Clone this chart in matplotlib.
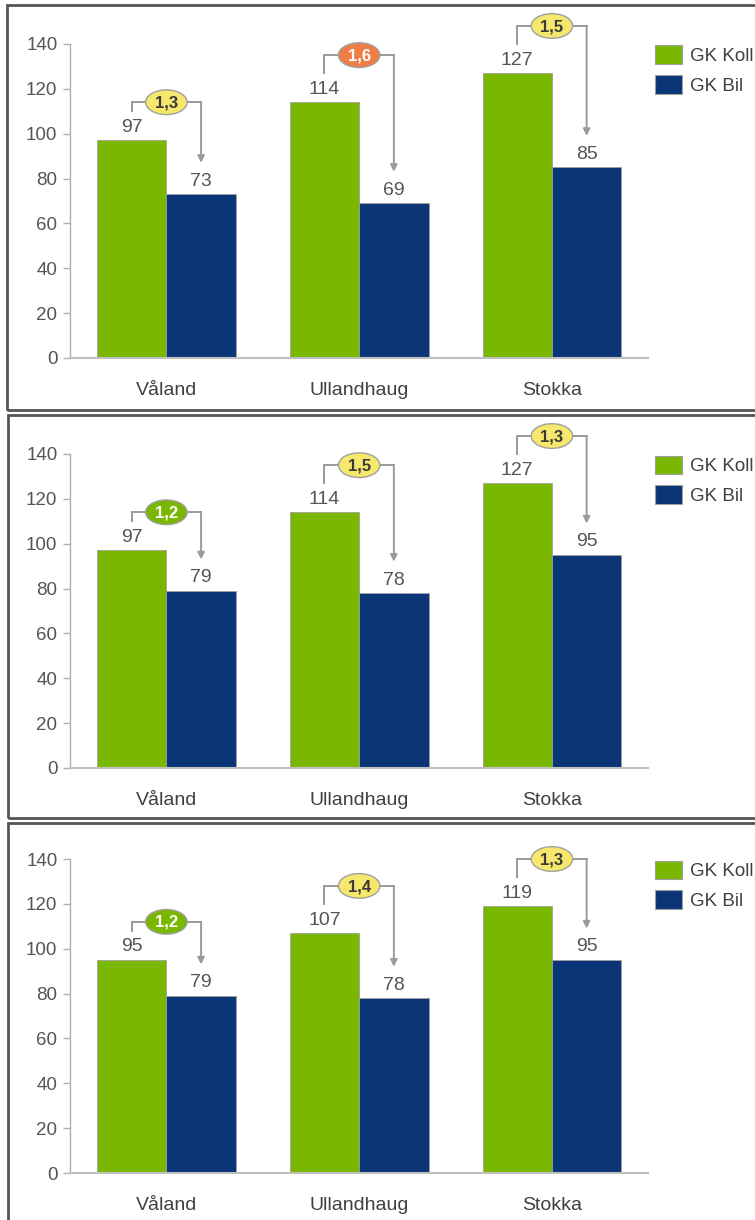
import numpy as np
import matplotlib
matplotlib.use("Agg")
import matplotlib.pyplot as plt
from matplotlib.patches import Patch, Rectangle, Ellipse

plt.rcParams['font.family'] = ['Liberation Sans', 'DejaVu Sans']

# data
categories = ['Våland', 'Ullandhaug', 'Stokka']
series_names = ['GK Koll', 'GK Bil']

koll_top = [97, 114, 127]
bil_top = [73, 69, 85]
ratio_top = ['1,3', '1,6', '1,5']

koll_mid = [97, 114, 127]
bil_mid = [79, 78, 95]
ratio_mid = ['1,2', '1,5', '1,3']

koll_bot = [95, 107, 119]
bil_bot = [79, 78, 95]
ratio_bot = ['1,2', '1,4', '1,3']

yticks = [0, 20, 40, 60, 80, 100, 120, 140]

# styling
GREEN = '#79B700'
BLUE = '#0A3577'
GRAY_TXT = '#555555'
LINE = '#9a9a9a'
bubble_style = {
    'green': dict(fc=GREEN, tc='white'),
    'yellow': dict(fc='#F6E86C', tc='#3a3a3a'),
    'orange': dict(fc='#EE7E45', tc='white'),
}
rise = [17, 21, 21]   # height of bracket above the green bar, per category


def bubble_kind(label):
    v = float(label.replace(',', '.'))
    if v <= 1.2:
        return 'green'
    if v >= 1.6:
        return 'orange'
    return 'yellow'


def draw_panel(ax, koll, bil, ratios):
    x = np.arange(len(categories))
    w = 0.36
    ax.bar(x - w / 2, koll, w, color=GREEN, edgecolor='#a0a0a0', linewidth=0.6)
    ax.bar(x + w / 2, bil, w, color=BLUE, edgecolor='#a0a0a0', linewidth=0.6)

    for i in range(len(categories)):
        xg, xb = x[i] - w / 2, x[i] + w / 2
        ax.text(xg, koll[i] + 2, str(koll[i]), ha='center', va='bottom',
                fontsize=14, color=GRAY_TXT)
        ax.text(xb, bil[i] + 2, str(bil[i]), ha='center', va='bottom',
                fontsize=14, color=GRAY_TXT)

        top = koll[i] + rise[i]
        ax.plot([xg, xg, xb], [koll[i] + 13, top, top], color=LINE, lw=1.4,
                clip_on=False, zorder=3, solid_joinstyle='miter')
        ax.annotate('', xy=(xb, bil[i] + 14), xytext=(xb, top),
                    arrowprops=dict(arrowstyle='-|>', color=LINE, lw=1.4,
                                    mutation_scale=10, shrinkA=0, shrinkB=0),
                    annotation_clip=False, zorder=3)
        st = bubble_style[bubble_kind(ratios[i])]
        ax.add_patch(Ellipse((x[i], top), 0.215, 11, fc=st['fc'], ec='#a0a0a0',
                             lw=1.0, zorder=4, clip_on=False))
        ax.text(x[i], top - 0.3, ratios[i], ha='center', va='center',
                fontsize=12, fontweight='bold', color=st['tc'], zorder=5,
                clip_on=False)

    ax.set_xlim(-0.5, 2.5)
    ax.set_ylim(0, 140)
    ax.set_yticks(yticks)
    ax.set_xticks(x)
    ax.set_xticklabels(categories, fontsize=14, color='#404040')
    ax.tick_params(axis='x', length=0, pad=17)
    ax.tick_params(axis='y', length=5, width=1, color='#b0b0b0',
                   labelsize=13.5, labelcolor=GRAY_TXT, pad=4)
    for s in ['top', 'right']:
        ax.spines[s].set_visible(False)
    ax.spines['left'].set_color('#b0b0b0')
    ax.spines['bottom'].set_color('#c0c0c0')
    ax.spines['left'].set_linewidth(1.0)
    ax.spines['bottom'].set_linewidth(1.5)

    handles = [Patch(fc=GREEN, ec='#a0a0a0', lw=0.8),
               Patch(fc=BLUE, ec='#a0a0a0', lw=0.8)]
    ax.legend(handles, series_names, loc='upper left',
              bbox_to_anchor=(1.012, 0.995), frameon=False, fontsize=13.5,
              handlelength=1.44, handleheight=1.12, labelspacing=0.55,
              handletextpad=0.4, borderpad=0, borderaxespad=0,
              labelcolor='#404040')


fig = plt.figure(figsize=(7.55, 12.2), dpi=100)

axes_bottoms = [0.7066, 0.3705, 0.0385]
panels = [(koll_top, bil_top, ratio_top),
          (koll_mid, bil_mid, ratio_mid),
          (koll_bot, bil_bot, ratio_bot)]
for b, (k, bl, r) in zip(axes_bottoms, panels):
    ax = fig.add_axes([0.0927, b, 0.766, 0.2574])
    draw_panel(ax, k, bl, r)

# panel frames
frames = [(0.0093, 0.664, 0.332), (0.0106, 0.3295, 0.3305), (0.0106, -0.02, 0.3454)]
for x0, y0, h in frames:
    fig.add_artist(Rectangle((x0, y0), 1.1, h, transform=fig.transFigure,
                             fill=False, ec='#555555', lw=2))

fig.savefig('out.png', dpi=100)
